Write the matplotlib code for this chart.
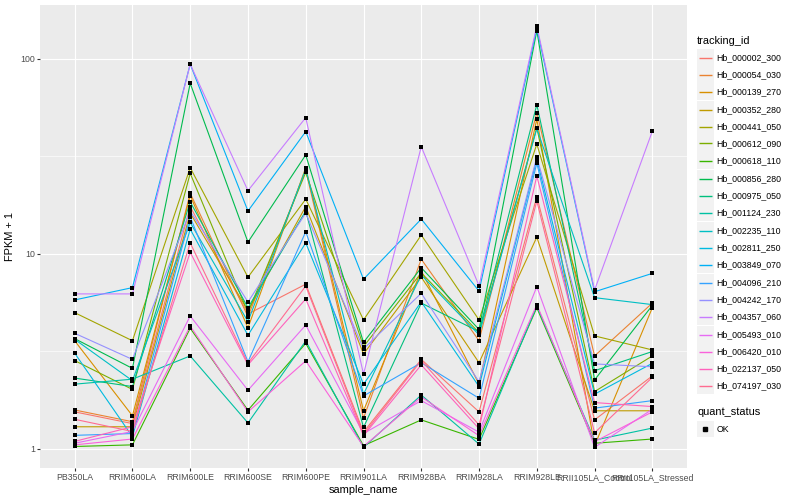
import matplotlib
from matplotlib import pyplot as plt
from matplotlib.lines import Line2D
from matplotlib.patches import Rectangle

matplotlib.use('Agg')
plt.rcParams['font.family'] = ['Liberation Sans', 'DejaVu Sans']

samples = ['PB350LA', 'RRIM600LA', 'RRIM600LE', 'RRIM600SE', 'RRIM600PE', 'RRIM901LA',
           'RRIM928BA', 'RRIM928LA', 'RRIM928LE', 'RRII105LA_Control', 'RRII105LA_Stressed']

tracking_ids = ['Hb_000002_300', 'Hb_000054_030', 'Hb_000139_270', 'Hb_000352_280',
                'Hb_000441_050', 'Hb_000612_090', 'Hb_000618_110', 'Hb_000856_280',
                'Hb_000975_050', 'Hb_001124_230', 'Hb_002235_110', 'Hb_002811_250',
                'Hb_003849_070', 'Hb_004096_210', 'Hb_004242_170', 'Hb_004357_060',
                'Hb_005493_010', 'Hb_006420_010', 'Hb_022137_050', 'Hb_074197_030']

colors = ['#F8766D', '#EA8331', '#D89000', '#C09B00', '#A3A500', '#7CAE00', '#39B600',
          '#00BB4E', '#00BF7D', '#00C1A3', '#00BFC4', '#00BAE0', '#00B0F6', '#35A2FF',
          '#9590FF', '#C77CFF', '#E76BF3', '#FA62DB', '#FF62BC', '#FF6C91']

# FPKM + 1 per tracking_id, in sample order
fpkm = {
    'Hb_000002_300': [1.55, 1.35, 17.5, 4.92, 7.0, 1.22, 2.88, 1.55, 19.7, 1.41, 2.37],
    'Hb_000054_030': [1.585, 1.38, 20.5, 4.77, 26.9, 1.44, 9.4, 3.59, 53.1, 3.0, 5.6],
    'Hb_000139_270': [3.59, 1.48, 19.9, 4.18, 27.7, 1.57, 8.2, 2.15, 49.1, 1.04, 5.3],
    'Hb_000352_280': [1.30, 1.30, 16.2, 5.12, 17.5, 3.07, 7.6, 2.77, 12.2, 1.57, 1.57],
    'Hb_000441_050': [5.0, 3.59, 27.7, 7.6, 19.1, 4.59, 12.5, 4.59, 36.6, 3.80, 3.22],
    'Hb_000612_090': [2.84, 2.02, 25.9, 5.0, 26.2, 3.35, 8.0, 3.95, 44.3, 1.97, 3.0],
    'Hb_000618_110': [1.03, 1.05, 4.16, 1.58, 3.48, 1.04, 1.41, 1.12, 5.3, 1.07, 1.125],
    'Hb_000856_280': [3.68, 2.59, 75.0, 11.5, 32.2, 3.52, 8.5, 4.1, 139.6, 2.26, 5.45],
    'Hb_000975_050': [2.31, 2.09, 18.5, 5.3, 16.6, 1.29, 5.6, 4.0, 58.3, 2.52, 3.16],
    'Hb_001124_230': [2.15, 2.28, 3.0, 1.36, 3.58, 1.02, 1.89, 1.06, 5.4, 1.11, 1.28],
    'Hb_002235_110': [3.65, 2.24, 14.5, 4.5, 27.2, 1.91, 7.8, 3.85, 44.0, 5.97, 5.5],
    'Hb_002811_250': [3.10, 1.156, 13.4, 3.83, 11.4, 2.15, 5.68, 2.09, 30.7, 1.91, 2.75],
    'Hb_003849_070': [5.81, 6.72, 94.0, 16.6, 42.4, 7.42, 15.1, 6.45, 143.6, 6.4, 7.95],
    'Hb_004096_210': [1.175, 1.20, 15.5, 2.8, 13.0, 1.87, 2.77, 1.82, 29.2, 1.62, 1.77],
    'Hb_004242_170': [3.92, 2.88, 16.6, 5.67, 16.2, 3.26, 6.29, 2.21, 31.4, 2.73, 2.64],
    'Hb_004357_060': [6.24, 6.24, 94.0, 21.1, 50.0, 2.42, 35.5, 6.87, 147.6, 6.53, 42.6],
    'Hb_005493_010': [1.07, 1.23, 4.81, 2.0, 4.32, 1.20, 1.77, 1.22, 6.8, 1.02, 1.6],
    'Hb_006420_010': [1.05, 1.125, 4.27, 1.55, 2.83, 1.03, 1.85, 1.17, 5.5, 1.09, 1.55],
    'Hb_022137_050': [1.094, 1.30, 10.2, 2.7, 5.88, 1.17, 2.70, 1.27, 25.1, 1.73, 1.65],
    'Hb_074197_030': [1.42, 1.23, 11.4, 2.75, 6.85, 1.19, 2.84, 1.33, 18.7, 1.21, 2.33],
}

W, H = 800, 500
fig = plt.figure(figsize=(8, 5), dpi=100)
ax = fig.add_axes([40 / W, 1 - 468 / H, 647 / W, 463 / H])
ax.set_facecolor('#EBEBEB')

x = list(range(len(samples)))
for tid, col in zip(tracking_ids, colors):
    ax.plot(x, fpkm[tid], color=col, lw=0.8, zorder=3)
for tid in tracking_ids:
    ax.scatter(x, fpkm[tid], marker='s', s=7, color='black', lw=0, zorder=4)

ax.set_yscale('log')
ax.set_ylim(0.799, 189)
ax.set_xlim(-0.6, len(samples) - 0.4)
ax.set_yticks([1, 10, 100])
ax.set_yticklabels(['1', '10', '100'])
ax.set_yticks([10 ** 0.5, 10 ** 1.5], minor=True)
ax.set_xticks(x)
ax.set_xticklabels(samples)
ax.tick_params(axis='y', which='minor', length=0, labelleft=False)
ax.tick_params(which='major', length=2, width=0.8, color='#333333',
               labelcolor='#4D4D4D', labelsize=6.3, pad=1.5)
ax.grid(which='major', color='white', lw=0.85)
ax.grid(which='minor', axis='y', color='white', lw=0.45)
ax.set_axisbelow(True)
for s in ax.spines.values():
    s.set_visible(False)

ax.set_xlabel('sample_name', fontsize=7.9, labelpad=2)
ax.set_ylabel('FPKM + 1', fontsize=7.9, labelpad=4)


def fx(px):
    return px / W


def fy(py):
    return 1 - py / H


# legend: tracking_id
fig.text(fx(697), fy(40.5), 'tracking_id', fontsize=7.9, va='center', ha='left')
for i, (tid, col) in enumerate(zip(tracking_ids, colors)):
    cy = round(56.7 + i * 17.3) + 0.5
    fig.add_artist(Rectangle((fx(697), fy(cy + 8.3)), 16.6 / W, 16.6 / H,
                             transform=fig.transFigure, facecolor='#F2F2F2',
                             edgecolor='none', zorder=1))
    fig.add_artist(Line2D([fx(698.5), fx(711.5)], [fy(cy), fy(cy)],
                          transform=fig.transFigure, color=col, lw=1.0,
                          solid_capstyle='butt', zorder=2))
    fig.text(fx(716.5), fy(cy), tid, fontsize=6.3, va='center', ha='left')

# legend: quant_status
fig.text(fx(697), fy(412.3), 'quant_status', fontsize=7.9, va='center', ha='left')
fig.add_artist(Rectangle((fx(697), fy(437.3)), 16.6 / W, 16.6 / H,
                         transform=fig.transFigure, facecolor='#F2F2F2',
                         edgecolor='none', zorder=1))
fig.add_artist(Line2D([fx(705)], [fy(429)], transform=fig.transFigure,
                      marker='s', markersize=2.2, color='black', lw=0, zorder=2))
fig.text(fx(716.5), fy(429), 'OK', fontsize=6.3, va='center', ha='left')

plt.savefig('out.png', format='png')
